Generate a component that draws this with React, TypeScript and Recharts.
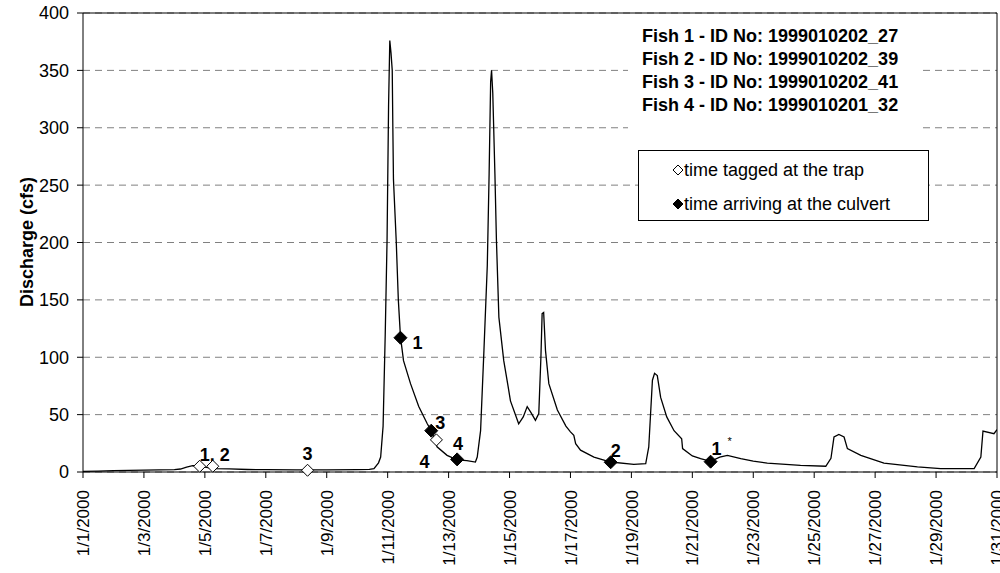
import React from "react";
import { ComposedChart, Line, Scatter, XAxis, YAxis, CartesianGrid, ReferenceLine } from "recharts";

const FONT = '"Liberation Sans", Arial, Helvetica, sans-serif';

// time in days after 1/1/2000 00:00, discharge in cfs
const flowDays = [
  0, 0.5, 1, 1.5, 2, 2.5, 3, 3.2, 3.4, 3.6, 3.8, 4, 4.3, 4.8, 5.4, 6, 7, 8, 9, 9.4,
  9.55, 9.7, 9.77, 9.85, 9.92, 9.98, 10.03, 10.07, 10.11, 10.15, 10.17, 10.19, 10.28, 10.35, 10.42,
  10.52, 10.75, 11.02, 11.3, 11.45, 11.62, 11.95, 12.28, 12.6, 12.88, 12.94, 13.05, 13.16, 13.27,
  13.33, 13.38, 13.41, 13.45, 13.52, 13.57, 13.65, 13.81, 13.95, 14.03, 14.3, 14.45, 14.58, 14.7,
  14.85, 14.96, 15.03, 15.07, 15.12, 15.18, 15.29, 15.57, 15.85, 16, 16.11, 16.17, 16.33, 16.77,
  17.32, 18.08, 18.47, 18.57, 18.69, 18.76, 18.85, 18.96, 19.16, 19.4, 19.65, 19.68, 20, 20.27,
  20.6, 20.9, 21.15, 21.59, 22, 22.46, 23.55, 24.38, 24.55, 24.65, 24.81, 24.98, 25.09, 25.53,
  26.29, 27.39, 28.15, 29.25, 29.47, 29.54, 29.9, 30,
];
const flowCfs = [
  0.5, 0.8, 1.2, 1.5, 1.7, 1.8, 2, 2.6, 4.2, 5.6, 5.3, 4.3, 3, 2.7, 2.2, 2, 1.8, 1.9, 2, 2.2,
  3, 8, 13, 40, 120, 202, 320, 376, 365, 350, 300, 255, 202, 150, 118,
  97, 77, 57, 42, 35, 22, 14.5, 10.5, 10, 8.7, 13, 36, 106, 180,
  260, 340, 350, 330, 260, 202, 135, 97, 75, 62, 42, 48, 57, 52,
  45, 51, 100, 138, 139, 106, 77, 54, 40, 35, 32, 24.7, 19, 13,
  8.7, 6.7, 7.3, 21.8, 80, 86, 84, 65, 48, 36, 29, 20.4, 14, 11.7,
  9.3, 13, 14.5, 11.7, 9.5, 7.8, 5.8, 5, 12, 30.5, 32.8, 30.5, 20.4, 14.5,
  7.8, 4.4, 3, 3, 13, 35.7, 33.4, 37,
];

const tickDays = [0, 2, 4, 6, 8, 10, 12, 14, 16, 18, 20, 22, 24, 26, 28, 30];
const tickLabels = [
  "1/1/2000", "1/3/2000", "1/5/2000", "1/7/2000", "1/9/2000", "1/11/2000", "1/13/2000", "1/15/2000",
  "1/17/2000", "1/19/2000", "1/21/2000", "1/23/2000", "1/25/2000", "1/27/2000", "1/29/2000", "1/31/2000",
];
const yTicks = [0, 50, 100, 150, 200, 250, 300, 350, 400];

// time tagged at the trap (open diamonds)
const taggedDays = [3.83, 4.26, 7.37, 11.6];
const taggedCfs = [5, 5, 1.5, 28];
const taggedLabels = ["1, 2", "", "3", "4"];

// time arriving at the culvert (filled diamonds)
const arrivalDays = [10.42, 11.43, 12.28, 17.32, 20.6];
const arrivalCfs = [117, 36, 11, 8.5, 9];
const arrivalLabels = ["1", "3", "4", "2", "1"];
const arrivalNotes = ["", "", "", "", "*"];

const fishIds = [
  "Fish 1 - ID No: 1999010202_27",
  "Fish 2 - ID No: 1999010202_39",
  "Fish 3 - ID No: 1999010202_41",
  "Fish 4 - ID No: 1999010201_32",
];

// where each marker's number sits, relative to the marker
const taggedOffsets = [[15, -11], [0, 0], [0, -16], [-12, 22]];
const arrivalOffsets = [[17, 5], [9, -8], [1, -15], [5, -11], [6, -13]];

const flow = flowDays.map((t, i) => ({ t, q: flowCfs[i] }));
const tagged = taggedDays.map((t, i) => ({ t, q: taggedCfs[i], i, label: taggedLabels[i], note: "" }));
const arrival = arrivalDays.map((t, i) => ({ t, q: arrivalCfs[i], i, label: arrivalLabels[i], note: arrivalNotes[i] }));

function DateTick({ x, y, payload }: any) {
  const i = tickDays.indexOf(payload.value);
  return (
    <text
      x={x}
      y={y}
      dx={-10}
      dy="0.36em"
      transform={`rotate(-90, ${x}, ${y})`}
      textAnchor="end"
      fontSize={17}
      fontFamily={FONT}
      fill="#000"
    >
      {tickLabels[i]}
    </text>
  );
}

function diamond(filled: boolean, offsets: number[][]) {
  const h = filled ? 6.5 : 6;
  return (props: any) => {
    const { cx, cy, payload } = props;
    const [dx, dy] = offsets[payload.i];
    return (
      <g>
        <polygon
          points={`${cx},${cy - h} ${cx + h},${cy} ${cx},${cy + h} ${cx - h},${cy}`}
          fill={filled ? "#000" : "#fff"}
          stroke="#000"
          strokeWidth={1}
        />
        {payload.label && (
          <text x={cx + dx} y={cy + dy + 6} textAnchor="middle" fontSize={18} fontWeight="bold" fontFamily={FONT} fill="#000">
            {payload.label}
          </text>
        )}
        {payload.note && (
          <text x={cx + dx + 13} y={cy + dy - 4} textAnchor="middle" fontSize={11} fontFamily={FONT} fill="#000">
            {payload.note}
          </text>
        )}
      </g>
    );
  };
}

function LegendDiamond({ filled }: { filled: boolean }) {
  return (
    <svg width={12} height={12} style={{ position: "absolute", left: 33, top: 4 }}>
      <polygon points="6,1 11,6 6,11 1,6" fill={filled ? "#000" : "#fff"} stroke="#000" strokeWidth={1} />
    </svg>
  );
}

export default function App() {
  return (
    <div style={{ position: "absolute", left: 0, top: 0, width: 1000, height: 573, background: "#fff", fontFamily: FONT }}>
      <ComposedChart width={1000} height={573} margin={{ top: 13, right: 3, bottom: 0, left: 0 }}>
        <CartesianGrid vertical={false} stroke="#808080" strokeDasharray="7 5" />
        <XAxis
          type="number"
          dataKey="t"
          domain={[0, 30]}
          ticks={tickDays}
          interval={0}
          allowDataOverflow
          height={101}
          tickSize={6}
          tick={<DateTick />}
          axisLine={{ stroke: "#000" }}
          tickLine={{ stroke: "#000" }}
        />
        <YAxis
          type="number"
          domain={[0, 400]}
          ticks={yTicks}
          interval={0}
          width={83}
          tickSize={6}
          tickMargin={8}
          tick={{ fontSize: 18, fill: "#000", fontFamily: FONT }}
          axisLine={{ stroke: "#000" }}
          tickLine={{ stroke: "#000" }}
        />
        <ReferenceLine y={400} stroke="#000" strokeWidth={1} />
        <ReferenceLine x={30} stroke="#000" strokeWidth={1} />
        <Line
          data={flow}
          dataKey="q"
          type="linear"
          stroke="#000"
          strokeWidth={1.3}
          dot={false}
          activeDot={false}
          isAnimationActive={false}
        />
        <Scatter data={tagged} dataKey="q" shape={diamond(false, taggedOffsets)} isAnimationActive={false} />
        <Scatter data={arrival} dataKey="q" shape={diamond(true, arrivalOffsets)} isAnimationActive={false} />
      </ComposedChart>

      <div
        style={{
          position: "absolute",
          left: 27,
          top: 242,
          transform: "translate(-50%, -50%) rotate(-90deg)",
          whiteSpace: "nowrap",
          fontSize: 18,
          fontWeight: "bold",
        }}
      >
        Discharge (cfs)
      </div>

      <div
        style={{
          position: "absolute",
          left: 628,
          top: 20,
          width: 290,
          height: 115,
          background: "#fff",
          boxSizing: "border-box",
          paddingLeft: 14,
          paddingTop: 5,
          fontSize: 18,
          fontWeight: "bold",
          lineHeight: "23px",
          whiteSpace: "nowrap",
        }}
      >
        {fishIds.map((s) => (
          <div key={s}>{s}</div>
        ))}
      </div>

      <div
        style={{
          position: "absolute",
          left: 638,
          top: 150,
          width: 291,
          height: 71,
          boxSizing: "border-box",
          border: "1px solid #000",
          background: "#fff",
          fontSize: 18,
          whiteSpace: "nowrap",
        }}
      >
        <div style={{ position: "absolute", left: 0, top: 9, height: 20, lineHeight: "20px", width: "100%" }}>
          <LegendDiamond filled={false} />
          <span style={{ position: "absolute", left: 45 }}>time tagged at the trap</span>
        </div>
        <div style={{ position: "absolute", left: 0, top: 43, height: 20, lineHeight: "20px", width: "100%" }}>
          <LegendDiamond filled={true} />
          <span style={{ position: "absolute", left: 45 }}>time arriving at the culvert</span>
        </div>
      </div>
    </div>
  );
}
